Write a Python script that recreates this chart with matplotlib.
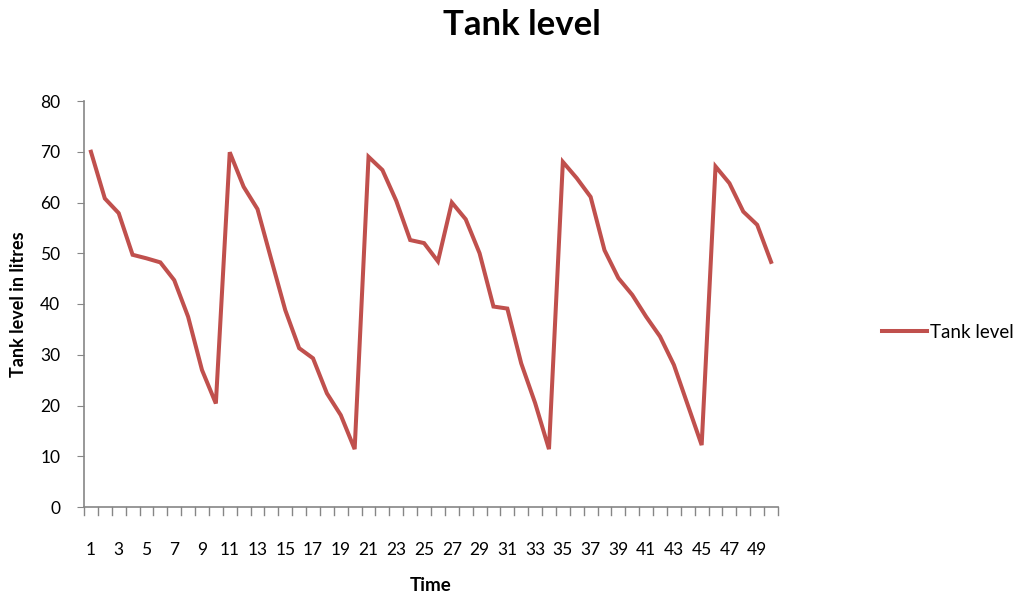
import matplotlib
matplotlib.use("Agg")
import matplotlib.pyplot as plt

# tank level readings, time steps 1..50
time = list(range(1, 51))
level = [70.0, 60.8, 57.9, 49.7, 49.0, 48.2, 44.7, 37.5, 27.0, 20.4,
         69.9, 63.1, 58.7, 48.7, 38.8, 31.3, 29.3, 22.4, 18.1, 11.4,
         69.0, 66.4, 60.3, 52.6, 52.0, 48.4, 60.0, 56.7, 50.0, 39.5,
         39.1, 28.3, 20.5, 11.4, 68.0, 64.8, 61.1, 50.6, 45.1, 41.8,
         37.5, 33.6, 28.0, 20.1, 12.2, 67.1, 63.8, 58.2, 55.6, 48.3]
xtick_labels = [str(t) for t in time[::2]]

plt.rcParams['font.family'] = ['Lato', 'DejaVu Sans']

fig = plt.figure(figsize=(10.23, 5.96), dpi=100)
ax = fig.add_axes([84 / 1023, 89 / 596, 694 / 1023, 406 / 596])

ax.plot(time, level, color='#C0504D', linewidth=2.9, label='Tank level',
        solid_joinstyle='miter')

ax.set_xlim(0.5, 50.5)
ax.set_ylim(0, 80)
ax.set_yticks(range(0, 81, 10))

# category axis: ticks between categories, labels on every other point
ax.set_xticks([t + 0.5 for t in [0] + time], minor=False)
ax.set_xticklabels([])
ax.set_xticks(time[::2], minor=True)
ax.set_xticklabels(xtick_labels, minor=True)
ax.tick_params(axis='x', which='minor', length=0, pad=25, labelsize=12.5)
ax.tick_params(axis='x', which='major', direction='in', length=0)
for t in [0] + time:
    ax.plot([t + 0.5, t + 0.5], [0, -1.6], color='#868686', lw=1,
            clip_on=False)

ax.tick_params(axis='y', length=5, color='#868686', labelsize=12.5, pad=12)

for s in ['top', 'right']:
    ax.spines[s].set_visible(False)
for s in ['left', 'bottom']:
    ax.spines[s].set_color('#868686')
    ax.spines[s].set_linewidth(1.2)

ax.set_xlabel('Time', fontsize=13.5, fontweight='bold', va='center')
ax.xaxis.set_label_coords(0.5, -0.194)
ax.set_ylabel('Tank level in litres', fontsize=13, fontweight='bold',
              va='center')
ax.yaxis.set_label_coords(-0.095, 0.5)
fig.suptitle('Tank level', fontsize=25, fontweight='bold', x=0.51, y=0.985)

ax.legend(loc='center left', bbox_to_anchor=(1.125, 0.43), frameon=False,
          fontsize=13.5, handlelength=2.4, handletextpad=0.2)

fig.savefig('out.png', dpi=100)
